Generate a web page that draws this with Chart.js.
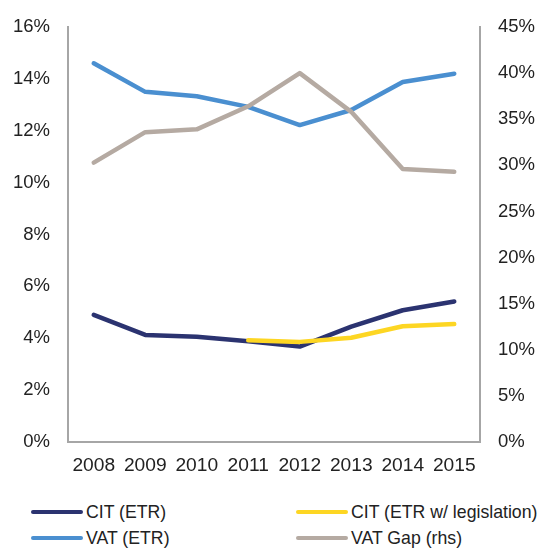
<!DOCTYPE html>
<html>
<head>
<meta charset="utf-8">
<script src="https://cdn.jsdelivr.net/npm/chart.js@4/dist/chart.umd.min.js"></script>
<style>
  body { margin: 0; background: #fff; font-family: "Liberation Sans", Arial, sans-serif; }
  #wrap { position: relative; width: 540px; height: 551px; }
  #legend { position: absolute; left: 0; top: 500px; width: 540px; }
  .item { position: absolute; display: flex; align-items: center; font-size: 17.7px; line-height: 22px; color: #222; white-space: nowrap; }
  .item span.line { display: inline-block; width: 52px; height: 4.5px; border-radius: 3px; margin-right: 3px; }
</style>
</head>
<body>
<div id="wrap">
  <canvas id="chart" width="540" height="490"></canvas>
  <div id="legend"></div>
</div>
<script>
// data
const years = ["2008", "2009", "2010", "2011", "2012", "2013", "2014", "2015"];
const citEtr = [4.9, 4.13, 4.06, 3.88, 3.68, 4.45, 5.08, 5.42];
const citLegislation = [null, null, null, 3.92, 3.86, 4.02, 4.46, 4.55];
const vatEtr = [14.6, 13.5, 13.33, 12.92, 12.22, 12.8, 13.88, 14.2];
const vatGap = [30.3, 33.6, 33.9, 36.4, 40.0, 35.8, 29.6, 29.3];

const colors = {
  cit: "#2b3370",
  citLeg: "#fdd623",
  vat: "#4a8fd0",
  gap: "#b5aaa2",
};

const datasets = [
  { label: "CIT (ETR)", data: citEtr, borderColor: colors.cit, yAxisID: "y", order: 2 },
  { label: "CIT (ETR w/ legislation)", data: citLegislation, borderColor: colors.citLeg, yAxisID: "y", order: 1 },
  { label: "VAT (ETR)", data: vatEtr, borderColor: colors.vat, yAxisID: "y", order: 4 },
  { label: "VAT Gap (rhs)", data: vatGap, borderColor: colors.gap, yAxisID: "y2", order: 3 },
].map((d) => ({
  ...d,
  borderWidth: 4.5,
  pointRadius: 0,
  tension: 0,
  fill: false,
  spanGaps: false,
  borderCapStyle: "round",
  borderJoinStyle: "round",
}));

const tickFontY = { family: "'Liberation Sans', Arial, sans-serif", size: 18.5 };
const tickFontX = { family: "'Liberation Sans', Arial, sans-serif", size: 19.2 };
const axisColor = "#a6a6a6";

new Chart(document.getElementById("chart"), {
  type: "line",
  data: { labels: years, datasets: datasets },
  options: {
    responsive: false,
    animation: false,
    layout: { padding: { top: 27, left: 0, right: 0, bottom: 0 } },
    plugins: { legend: { display: false }, tooltip: { enabled: false } },
    scales: {
      x: {
        offset: true,
        grid: { display: false },
        border: { display: true, color: axisColor, width: 2 },
        ticks: { color: "#222", font: tickFontX, padding: 4, maxRotation: 0, autoSkip: false },
        afterFit: (s) => { s.height = 48; },
      },
      y: {
        position: "left",
        min: 0,
        max: 16,
        grid: { display: false },
        border: { display: true, color: axisColor, width: 2 },
        ticks: { stepSize: 2, color: "#222", font: tickFontY, padding: 10, callback: (v) => v + "%" },
        afterFit: (s) => { s.width = 68; },
      },
      y2: {
        position: "right",
        min: 0,
        max: 45,
        grid: { display: false },
        border: { display: true, color: axisColor, width: 2 },
        ticks: { stepSize: 5, color: "#222", font: tickFontY, padding: 10, callback: (v) => v + "%" },
        afterFit: (s) => { s.width = 60; },
      },
    },
  },
});

// legend laid out as in the picture: two columns, two rows
const legendPos = [
  { left: 31, top: 1 },
  { left: 296, top: 1 },
  { left: 31, top: 27 },
  { left: 296, top: 27 },
];
const legend = document.getElementById("legend");
datasets.forEach((d, i) => {
  const item = document.createElement("div");
  item.className = "item";
  item.style.left = legendPos[i].left + "px";
  item.style.top = legendPos[i].top + "px";
  const line = document.createElement("span");
  line.className = "line";
  line.style.background = d.borderColor;
  item.appendChild(line);
  item.appendChild(document.createTextNode(d.label));
  legend.appendChild(item);
});
</script>
</body>
</html>
